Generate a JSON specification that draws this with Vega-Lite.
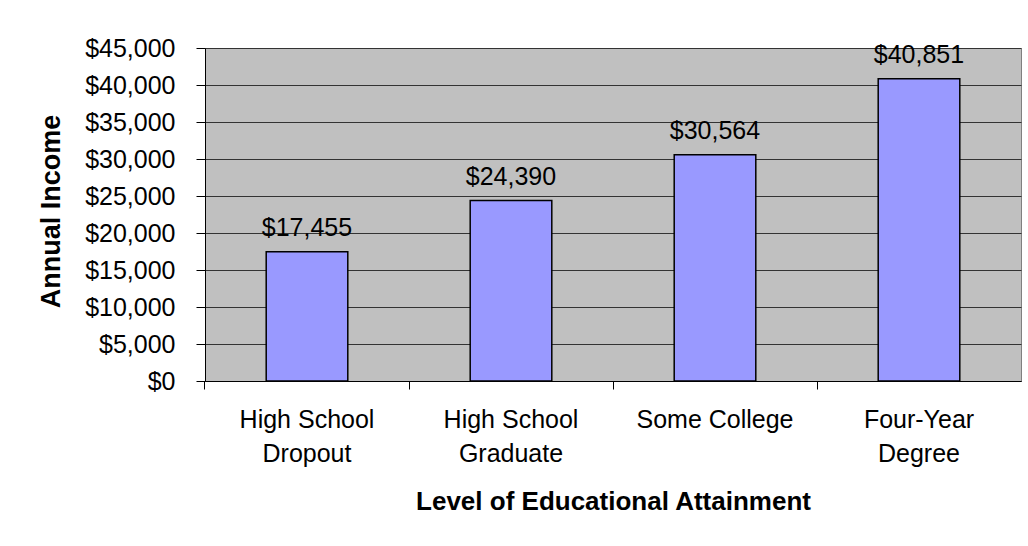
{
  "$schema": "https://vega.github.io/schema/vega-lite/v6.json",
  "width": 816,
  "height": 333,
  "autosize": {"type": "none"},
  "padding": {"left": 205, "top": 48, "right": 7, "bottom": 165},
  "background": "white",
  "config": {
    "font": "Liberation Sans",
    "view": {"stroke": "#808080", "strokeWidth": 1, "fill": "#C0C0C0"}
  },
  "data": {
    "values": [
      {"level": "High School Dropout", "income": 17455},
      {"level": "High School Graduate", "income": 24390},
      {"level": "Some College", "income": 30564},
      {"level": "Four-Year Degree", "income": 40851}
    ]
  },
  "encoding": {
    "x": {
      "field": "level",
      "type": "nominal",
      "sort": null,
      "scale": {"paddingInner": 0.6, "paddingOuter": 0.3},
      "axis": {
        "title": "Level of Educational Attainment",
        "titleFontSize": 26,
        "titleFontWeight": "bold",
        "titleColor": "black",
        "titlePadding": 22,
        "labelAngle": 0,
        "labelFontSize": 25,
        "labelColor": "black",
        "labelLineHeight": 34,
        "labelPadding": 18,
        "labelExpr": "datum.value == 'Some College' ? ['Some College'] : datum.value == 'Four-Year Degree' ? ['Four-Year','Degree'] : ['High School', slice(datum.value, 12)]",
        "bandPosition": -0.75,
        "tickSize": 8,
        "tickColor": "black",
        "domainColor": "black",
        "grid": false
      }
    },
    "y": {
      "field": "income",
      "type": "quantitative",
      "scale": {"domain": [0, 45000]},
      "axis": {
        "title": "Annual Income",
        "titleFontSize": 27,
        "titleFontWeight": "bold",
        "titleColor": "black",
        "titleX": -154,
        "titleY": 163,
        "titleAngle": 270,
        "titleAlign": "center",
        "titleBaseline": "middle",
        "values": [0, 5000, 10000, 15000, 20000, 25000, 30000, 35000, 40000, 45000],
        "format": "$,.0f",
        "labelOverlap": false,
        "labelFontSize": 25,
        "labelColor": "black",
        "labelPadding": 21,
        "tickSize": 9,
        "tickColor": "black",
        "domainColor": "black",
        "grid": true,
        "gridColor": "#333333",
        "gridOpacity": 1
      }
    }
  },
  "layer": [
    {
      "mark": {"type": "bar", "fill": "#9999FF", "stroke": "black", "strokeWidth": 1.5}
    },
    {
      "mark": {"type": "text", "fontSize": 25, "color": "black", "baseline": "alphabetic", "dy": -16},
      "encoding": {
        "text": {"field": "income", "type": "quantitative", "format": "$,.0f"}
      }
    }
  ]
}
